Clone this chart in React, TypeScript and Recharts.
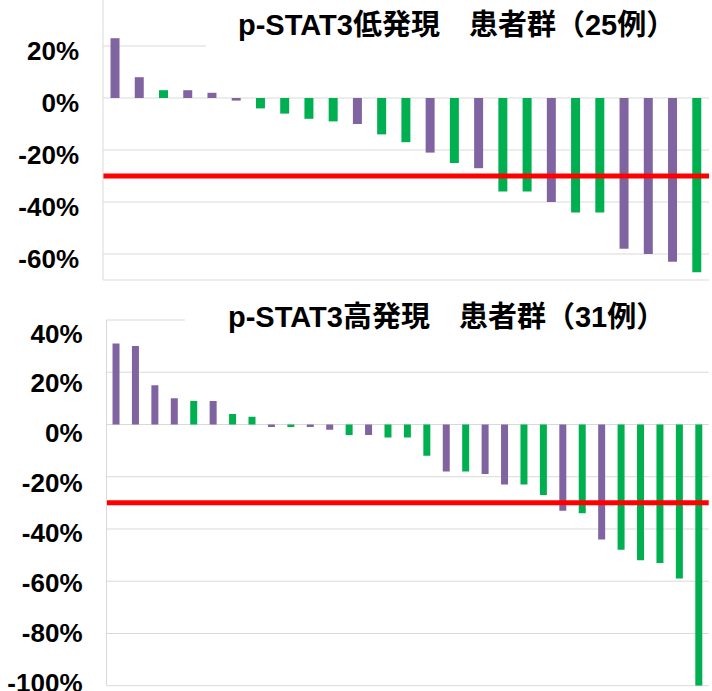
import React from 'react';
import { BarChart, Bar, XAxis, YAxis, CartesianGrid, ReferenceLine, Cell } from 'recharts';

const PURPLE = '#8064A2';
const GREEN = '#00B050';
const GRID = '#d9d9d9';
const FONT = '"Liberation Sans", Arial, "Noto Sans CJK JP", sans-serif';

// Low expression group (25 cases)
const lowTitle = 'p-STAT3低発現　患者群（25例）';
const lowValues = [23, 8, 3, 3, 2, -1, -4, -6, -8, -9, -10, -14, -17, -21, -25, -27, -36, -36, -40, -44, -44, -58, -60, -63, -67];
const lowTypes = ['P', 'P', 'G', 'P', 'P', 'P', 'G', 'G', 'G', 'G', 'P', 'G', 'G', 'P', 'G', 'P', 'G', 'G', 'P', 'G', 'G', 'P', 'P', 'P', 'G'];
const lowTicks = [-60, -40, -20, 0, 20];

// High expression group (31 cases)
const highTitle = 'p-STAT3高発現　患者群（31例）';
const highValues = [31, 30, 15, 10, 9, 9, 4, 3, -1, -1, -1, -2, -4, -4, -5, -5, -12, -18, -18, -19, -23, -23, -27, -33, -34, -44, -48, -52, -53, -59, -100];
const highTypes = ['P', 'P', 'P', 'P', 'G', 'P', 'G', 'G', 'P', 'G', 'P', 'P', 'G', 'P', 'G', 'G', 'G', 'P', 'G', 'P', 'P', 'G', 'G', 'P', 'G', 'P', 'G', 'G', 'G', 'G', 'G'];
const highTicks = [-100, -80, -60, -40, -20, 0, 20, 40];

const threshold = -30;

const Tick = (props: any) => {
  const { x, y, payload } = props;
  return (
    <text x={x} y={y} dy="0.355em" textAnchor="end" fontFamily={FONT} fontWeight="bold" fontSize={26} fill="#000">
      {payload.value}%
    </text>
  );
};

type WProps = {
  values: number[];
  types: string[];
  ticks: number[];
  domain: [number, number];
  labelDomain: [number, number];
  height: number;
  margin: { top: number; right: number; bottom: number; left: number };
  yAxisWidth: number;
  labelGap: number;
  bottomLine?: number;
};

function Waterfall({ values, types, ticks, domain, labelDomain, height, margin, yAxisWidth, labelGap, bottomLine }: WProps) {
  const data = values.map((v, i) => ({ id: String(i + 1), value: v, type: types[i] }));
  return (
    <BarChart width={712} height={height} data={data} margin={margin} barCategoryGap="31%">
      <CartesianGrid horizontal vertical={false} stroke={GRID} yAxisId="main" />
      <XAxis dataKey="id" hide />
      <YAxis
        yAxisId="main"
        type="number"
        domain={domain}
        ticks={ticks}
        interval={0}
        allowDataOverflow
        hide
      />
      <YAxis
        yAxisId="labels"
        type="number"
        domain={labelDomain}
        ticks={ticks}
        interval={0}
        allowDataOverflow
        width={yAxisWidth}
        axisLine={{ stroke: GRID }}
        tickLine={false}
        tickSize={0}
        tickMargin={labelGap}
        tick={(p: any) => <Tick {...p} />}
      />
      {bottomLine !== undefined && <ReferenceLine yAxisId="main" y={bottomLine} stroke="#eeeeee" />}
      <Bar dataKey="value" yAxisId="main" isAnimationActive={false}>
        {data.map((d, i) => (
          <Cell key={i} fill={d.type === 'P' ? PURPLE : GREEN} />
        ))}
      </Bar>
      <ReferenceLine yAxisId="main" y={threshold} stroke="#FF0000" strokeWidth={5} />
    </BarChart>
  );
}

export default function App() {
  return (
    <div style={{ position: 'absolute', left: 0, top: 0, width: 712, height: 691, overflow: 'hidden', background: '#fff' }}>
      <div style={{ position: 'absolute', left: 0, top: -10 }}>
        <Waterfall
          values={lowValues}
          types={lowTypes}
          ticks={lowTicks}
          domain={[-70, 40]}
          labelDomain={[-68.27, 41.73]}
          height={300}
          margin={{ top: 4, right: 3, bottom: 10, left: 0 }}
          yAxisWidth={103}
          labelGap={24}
          bottomLine={-70}
        />
      </div>
      <div style={{ position: 'absolute', left: 0, top: 300 }}>
        <Waterfall
          values={highValues}
          types={highTypes}
          ticks={highTicks}
          domain={[-100, 40]}
          labelDomain={[-101.2, 45.33]}
          height={400}
          margin={{ top: 20, right: 3.3, bottom: 14.3, left: 0 }}
          yAxisWidth={106.5}
          labelGap={24}
        />
      </div>
      <svg width={712} height={691} style={{ position: 'absolute', left: 0, top: 0, pointerEvents: 'none' }}>
        <rect x={206} y={0} width={506} height={50} fill="#fff" />
        <text x={238} y={35} fontFamily={FONT} fontWeight="bold" fontSize={29} fill="#000">{lowTitle}</text>
        <rect x={185} y={300} width={527} height={40} fill="#fff" />
        <text x={228} y={327} fontFamily={FONT} fontWeight="bold" fontSize={29} fill="#000">{highTitle}</text>
      </svg>
    </div>
  );
}
